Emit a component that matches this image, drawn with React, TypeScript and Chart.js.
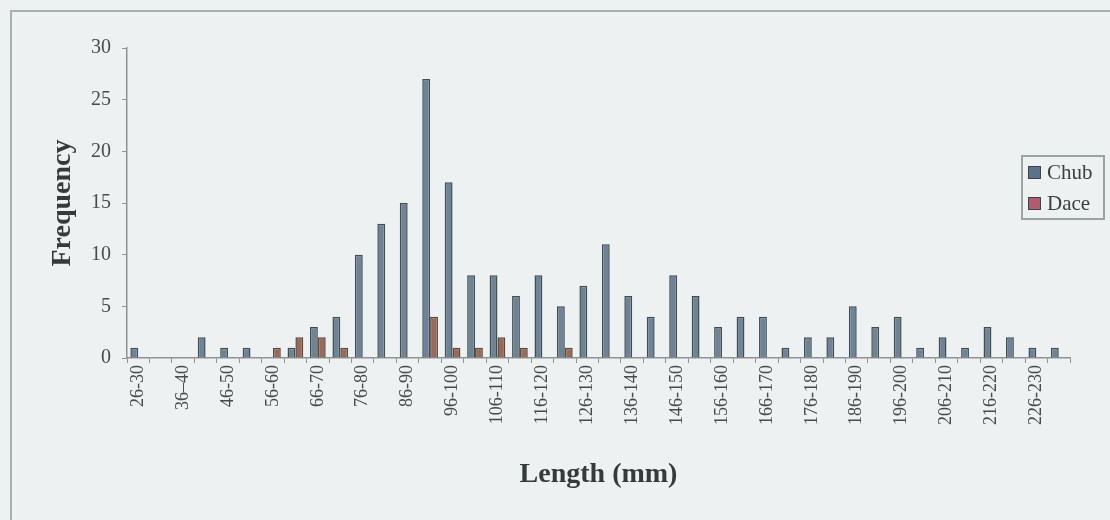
import React, { useEffect, useRef } from 'react';
import { Chart, registerables } from 'chart.js';

Chart.register(...registerables);

const categories = [
  '26-30', '31-35', '36–40', '41-45', '46-50', '51-55', '56-60', '61-65', '66-70', '71-75',
  '76-80', '81-85', '86-90', '91-95', '96-100', '101-105', '106-110', '111-115', '116-120', '121-125',
  '126-130', '131-135', '136-140', '141-145', '146-150', '151-155', '156-160', '161-165', '166-170', '171-175',
  '176-180', '181-185', '186-190', '191-195', '196-200', '201-205', '206-210', '211-215', '216-220', '221-225',
  '226-230', '231-235',
];

const chubValues = [
  1, 0, 0, 2, 1, 1, 0, 1, 3, 4,
  10, 13, 15, 27, 17, 8, 8, 6, 8, 5,
  7, 11, 6, 4, 8, 6, 3, 4, 4, 1,
  2, 2, 5, 3, 4, 1, 2, 1, 3, 2,
  1, 1,
];

const daceValues = [
  0, 0, 0, 0, 0, 0, 1, 2, 2, 1,
  0, 0, 0, 4, 1, 1, 2, 1, 0, 1,
  0, 0, 0, 0, 0, 0, 0, 0, 0, 0,
  0, 0, 0, 0, 0, 0, 0, 0, 0, 0,
  0, 0,
];

const seriesNames = ['Chub', 'Dace'];
const barFills = ['#6e8397', '#986a57'];
const barBorders = ['#3f4f50', '#5a4843'];
const legendSwatches = ['#5a7190', '#b25a70'];

const SERIF = "'Liberation Serif', 'DejaVu Serif', serif";

const backgroundPlugin = {
  id: 'pageBackground',
  beforeDraw(chart: any) {
    const { ctx, width, height } = chart;
    ctx.save();
    ctx.fillStyle = '#eef1f1';
    ctx.fillRect(0, 0, width, height);
    ctx.strokeStyle = '#a7b1ac';
    ctx.lineWidth = 2;
    ctx.beginPath();
    ctx.moveTo(11, height);
    ctx.lineTo(11, 11);
    ctx.lineTo(width, 11);
    ctx.stroke();
    ctx.restore();
  },
};

const legendPlugin = {
  id: 'boxLegend',
  afterDraw(chart: any) {
    const { ctx } = chart;
    const x = 1022;
    const y = 156;
    const w = 82;
    const h = 63;
    ctx.save();
    ctx.fillStyle = '#eef1f1';
    ctx.fillRect(x, y, w, h);
    ctx.strokeStyle = '#9aa59f';
    ctx.lineWidth = 2;
    ctx.strokeRect(x, y, w, h);
    ctx.font = `21px ${SERIF}`;
    ctx.textBaseline = 'middle';
    ctx.textAlign = 'left';
    chart.data.datasets.forEach((ds: any, i: number) => {
      const cy = y + 16 + i * 31;
      ctx.fillStyle = legendSwatches[i];
      ctx.fillRect(x + 6, cy - 6, 13, 13);
      ctx.strokeStyle = '#3c4444';
      ctx.lineWidth = 1;
      ctx.strokeRect(x + 6.5, cy - 5.5, 12, 12);
      ctx.fillStyle = '#3a3f3f';
      ctx.fillText(ds.label, x + 25, cy + 1);
    });
    ctx.restore();
  },
};

export default function App() {
  const ref = useRef<HTMLCanvasElement>(null);

  useEffect(() => {
    document.body.style.margin = '0';
    const canvas = ref.current;
    if (!canvas) return;
    const chart = new Chart(canvas, {
      type: 'bar',
      data: {
        labels: categories,
        datasets: [
          {
            label: seriesNames[0],
            data: chubValues,
            backgroundColor: barFills[0],
            borderColor: barBorders[0],
            borderWidth: 1.5,
            categoryPercentage: 0.7,
            barPercentage: 1,
          },
          {
            label: seriesNames[1],
            data: daceValues,
            backgroundColor: barFills[1],
            borderColor: barBorders[1],
            borderWidth: 1.5,
            categoryPercentage: 0.7,
            barPercentage: 1,
          },
        ],
      },
      options: {
        animation: false,
        responsive: false,
        layout: { padding: { left: 40, right: 40, top: 48, bottom: 20 } },
        plugins: {
          legend: { display: false },
          tooltip: { enabled: false },
        },
        scales: {
          x: {
            offset: true,
            grid: {
              display: true,
              drawOnChartArea: false,
              drawTicks: true,
              tickLength: 5,
              color: '#8d9393',
              offset: true,
            },
            border: { display: true, color: '#8d9393', width: 1.5 },
            ticks: {
              autoSkip: false,
              minRotation: 90,
              maxRotation: 90,
              padding: 2,
              color: '#474b4b',
              font: { family: SERIF, size: 18 },
              callback: (_v: any, i: number) => (i % 2 === 0 ? categories[i] : ''),
            },
            title: {
              display: true,
              text: 'Length (mm)',
              color: '#353a3a',
              font: { family: SERIF, size: 28, weight: 'bold' },
              padding: { top: 0, bottom: 8 },
            },
            afterFit: (s: any) => {
              s.height = 142;
            },
          },
          y: {
            min: 0,
            max: 30,
            grid: {
              display: true,
              drawOnChartArea: false,
              drawTicks: true,
              tickLength: 5,
              color: '#8d9393',
            },
            border: { display: true, color: '#8d9393', width: 1.5 },
            ticks: {
              stepSize: 5,
              padding: 11,
              color: '#474b4b',
              font: { family: SERIF, size: 20 },
            },
            title: {
              display: true,
              text: 'Frequency',
              color: '#353a3a',
              font: { family: SERIF, size: 28, weight: 'bold' },
              padding: { top: 6, bottom: 0 },
            },
            afterFit: (s: any) => {
              s.width = 87;
            },
          },
        },
      },
      plugins: [backgroundPlugin, legendPlugin],
    } as any);
    return () => chart.destroy();
  }, []);

  return (
    <div style={{ width: 1110, height: 520 }}>
      <canvas ref={ref} width={1110} height={520} style={{ display: 'block' }} />
    </div>
  );
}
